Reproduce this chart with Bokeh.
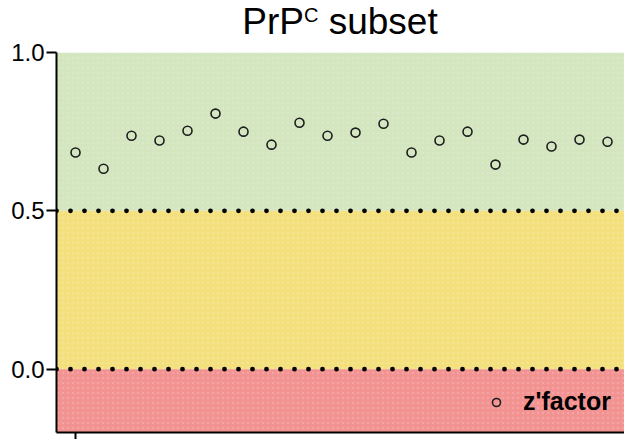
from bokeh.plotting import figure
from bokeh.layouts import column
from bokeh.models import (BoxAnnotation, Span, FixedTicker, Range1d, Div,
                          Legend, LegendItem, ColumnDataSource)
from bokeh.embed import file_html
from bokeh.resources import INLINE

# z'factor per plate, PrP^C subset
plate = list(range(1, 21))
zfactor = [0.684, 0.633, 0.737, 0.722, 0.753, 0.807, 0.750, 0.709, 0.778, 0.737,
           0.747, 0.775, 0.684, 0.722, 0.750, 0.646, 0.725, 0.703, 0.725, 0.718]

# quality bands: (bottom, top, colour)
band_bottom = [0.5, 0.0, None]
band_top = [1.0, 0.5, 0.0]
band_color = ["#d3e6bf", "#f3df7c", "#f29291"]
thresholds = [0.5, 0.0]
y_ticks = [0.0, 0.5, 1.0]

FONT = "Liberation Sans"

x0, x1 = 0.321, 20.607
p = figure(width=624, height=439, output_backend="svg", toolbar_location=None,
           x_range=Range1d(x0, x1), y_range=Range1d(-0.2, 1.0),
           min_border_left=56, min_border_right=0, min_border_top=52,
           min_border_bottom=7, background_fill_color="white",
           border_fill_color="white", outline_line_color=None)
p.grid.visible = False

for b, t, c in zip(band_bottom, band_top, band_color):
    p.add_layout(BoxAnnotation(bottom=b, top=t, fill_color=c, fill_alpha=1.0,
                               line_color=None, hatch_pattern="dot",
                               hatch_color="white", hatch_alpha=0.16,
                               hatch_scale=5, level="underlay"))

for th in thresholds:
    p.add_layout(Span(location=th, dimension="width", line_color="black",
                      line_width=4.8, line_dash="0 14", line_cap="round"))

src = ColumnDataSource(dict(x=plate, y=zfactor))
r = p.scatter("x", "y", source=src, marker="circle", size=9, fill_color=None,
              line_color="#1e1e1e", line_width=1.6)

legend = Legend(items=[LegendItem(label="z'factor", renderers=[r])],
                location=(430, 16), background_fill_alpha=0,
                border_line_color=None, label_text_font=FONT,
                label_text_font_style="bold", label_text_font_size="25px",
                label_text_color="black", glyph_width=20, glyph_height=20,
                label_standoff=17, margin=0, padding=0)
p.add_layout(legend)

# y axis
ya = p.yaxis[0]
ya.ticker = FixedTicker(ticks=y_ticks, minor_ticks=[])
ya.major_label_overrides = {0.0: "0.0", 0.5: "0.5", 1.0: "1.0"}
ya.major_label_text_font = FONT
ya.major_label_text_font_size = "24px"
ya.major_label_text_color = "black"
ya.major_label_standoff = 2
ya.axis_line_width = 2
ya.axis_line_color = "black"
ya.major_tick_line_width = 2
ya.major_tick_out = 10
ya.major_tick_in = 0
ya.minor_tick_line_color = None

# x axis: bare baseline with the first plate tick
xa = p.xaxis[0]
xa.ticker = FixedTicker(ticks=[1], minor_ticks=[])
xa.major_label_overrides = {1: ""}
xa.major_label_text_font_size = "0px"
xa.major_label_standoff = 0
xa.axis_line_width = 2
xa.axis_line_color = "black"
xa.major_tick_line_width = 2
xa.major_tick_out = 7
xa.major_tick_in = 0
xa.minor_tick_line_color = None

# title with superscript C, laid over the figure's top border
title = Div(
    text=('<div style="position:absolute;left:56px;top:3px;width:568px;'
          'text-align:center;font-family:\'Liberation Sans\';font-size:37px;'
          'line-height:37px;color:black;white-space:nowrap;">'
          'PrP<sup style="font-size:20px;vertical-align:12px;line-height:0;">C</sup>'
          ' subset</div>'),
    width=624, height=46, margin=(-439, 0, 0, 0),
    styles={"position": "relative"})

layout = column(p, title, spacing=0)
open("out.html", "w").write(file_html(layout, INLINE))
